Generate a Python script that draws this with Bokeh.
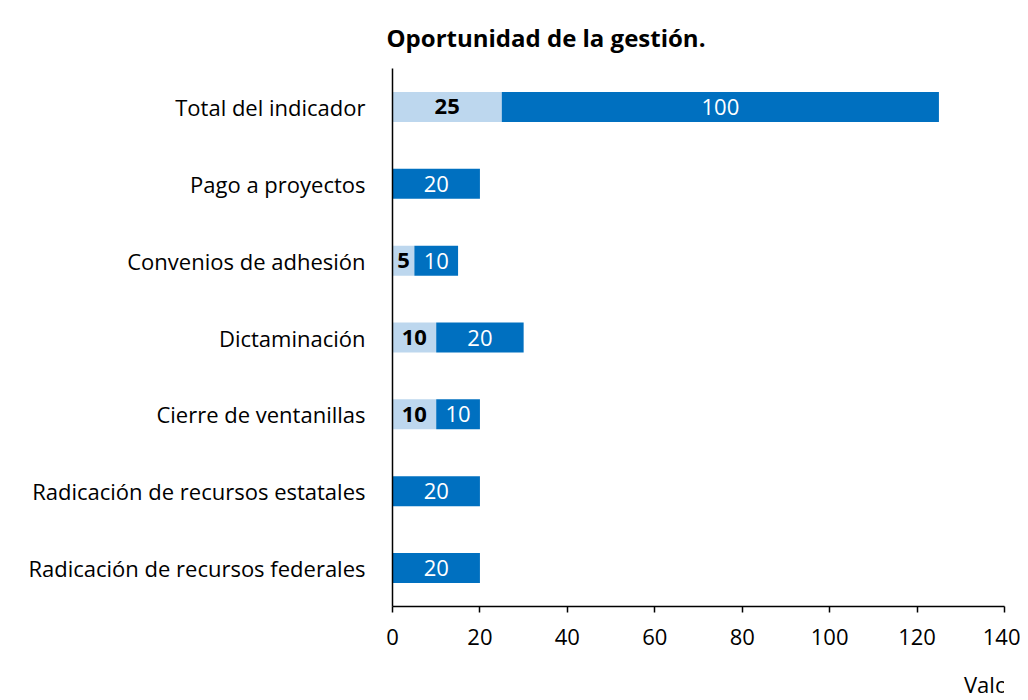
from bokeh.plotting import figure
from bokeh.models import ColumnDataSource, Legend, LegendItem, FactorRange
from bokeh.layouts import column
from bokeh.core.properties import value
from bokeh.embed import file_html
from bokeh.resources import INLINE

categories = ["Total del indicador", "Pago a proyectos", "Convenios de adhesión",
              "Dictaminación", "Cierre de ventanillas",
              "Radicación de recursos estatales", "Radicación de recursos federales"]
valor_2019 = [25, 0, 5, 10, 10, 0, 0]
valor_maximo = [100, 20, 10, 20, 10, 20, 20]
x_ticks = [0, 20, 40, 60, 80, 100, 120, 140]
title_text = "Oportunidad de la gestión."
series_names = ["Valor 2019", "Valor máximo"]

FONT = "Open Sans"
FS = "22px"
C_LIGHT = "#BDD7EE"
C_DARK = "#0070C0"

src = ColumnDataSource(dict(cat=categories, v2019=valor_2019, vmax=valor_maximo))

p = figure(y_range=FactorRange(*reversed(categories), range_padding=0),
           x_range=(0, 140), frame_width=612, frame_height=538,
           output_backend="svg", toolbar_location=None,
           min_border_left=392, min_border_right=16, min_border_top=68,
           min_border_bottom=62, title=title_text)

r = p.hbar_stack(["v2019", "vmax"], y="cat", height=0.39, source=src,
                 color=[C_LIGHT, C_DARK], line_color=None)

# labels
l1 = [(c, v / 2, str(v)) for c, v in zip(categories, valor_2019) if v > 0]
l2 = [(c, a + b / 2, str(b)) for c, a, b in zip(categories, valor_2019, valor_maximo) if b > 0]
s1 = ColumnDataSource(dict(y=[t[0] for t in l1], x=[t[1] for t in l1], t=[t[2] for t in l1]))
s2 = ColumnDataSource(dict(y=[t[0] for t in l2], x=[t[1] for t in l2], t=[t[2] for t in l2]))
p.text(x="x", y="y", text="t", source=s1, text_align="center", text_baseline="middle",
       text_font=value(FONT), text_font_size=FS, text_font_style="bold", text_color="black")
p.text(x="x", y="y", text="t", source=s2, text_align="center", text_baseline="middle",
       text_font=value(FONT), text_font_size=FS, text_color="white")

# title
p.title.align = "left"
p.title.vertical_align = "top"
p.title.offset = -6
p.title.text_font = FONT
p.title.text_font_size = "24px"
p.title.text_font_style = "bold"
p.title.text_color = "black"
p.title.standoff = 26

p.xaxis.ticker = x_ticks
p.xaxis.axis_line_color = "black"
p.xaxis.axis_line_width = 1.5
p.xaxis.major_tick_line_color = "black"
p.xaxis.major_tick_line_width = 1.5
p.xaxis.major_tick_out = 6
p.xaxis.major_tick_in = 0
p.xaxis.minor_tick_line_color = None
p.xaxis.major_label_standoff = 16
p.xaxis.major_label_text_font = FONT
p.xaxis.major_label_text_font_size = FS
p.xaxis.major_label_text_color = "black"

p.yaxis.axis_line_color = "black"
p.yaxis.axis_line_width = 1.5
p.yaxis.major_tick_line_color = None
p.yaxis.minor_tick_line_color = None
p.yaxis.major_label_standoff = 21
p.yaxis.major_label_text_font = FONT
p.yaxis.major_label_text_font_size = FS
p.yaxis.major_label_text_color = "black"

p.xgrid.grid_line_color = None
p.ygrid.grid_line_color = None
p.outline_line_color = None

# legend strip below the chart
p2 = figure(width=1020, height=32, x_range=(0, 1), y_range=(0, 1),
            output_backend="svg", toolbar_location=None,
            min_border_left=0, min_border_right=0, min_border_top=0, min_border_bottom=0,
            x_axis_type=None, y_axis_type=None)
p2.xgrid.grid_line_color = None
p2.ygrid.grid_line_color = None
p2.outline_line_color = None
lr1 = p2.hbar(y=[], right=[], height=0.5, color=C_LIGHT, line_color=None)
lr2 = p2.hbar(y=[], right=[], height=0.5, color=C_DARK, line_color=None)

legend = Legend(items=[LegendItem(label=series_names[0], renderers=[lr1]),
                       LegendItem(label=series_names[1], renderers=[lr2])],
                orientation="horizontal", location=(551, 1),
                label_text_font=FONT, label_text_font_size=FS, label_text_color="black",
                glyph_width=15, glyph_height=15, label_standoff=6, spacing=22,
                border_line_color=None, background_fill_alpha=0,
                padding=0, margin=0)
p2.add_layout(legend, "center")

layout = column(p, p2, spacing=0)

open("out.html", "w").write(file_html(layout, INLINE))
